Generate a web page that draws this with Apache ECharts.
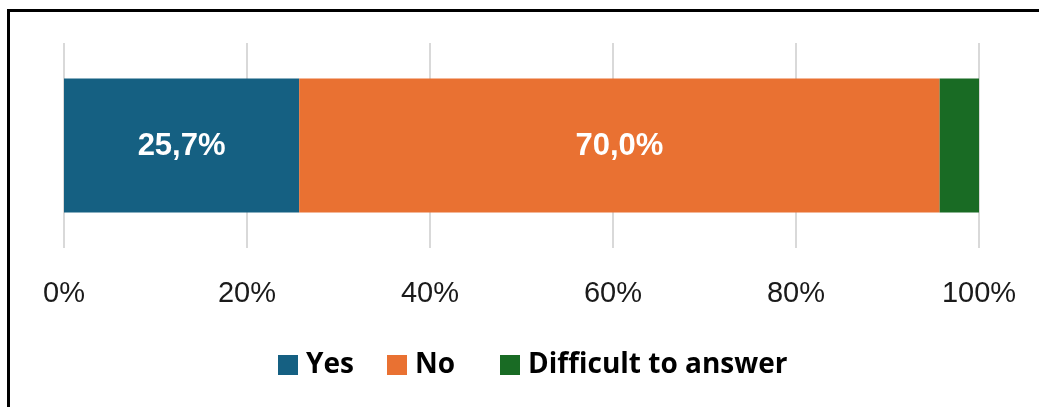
<!DOCTYPE html>
<html>
<head>
<meta charset="utf-8">
<style>
  html, body { margin: 0; padding: 0; background: #fff; }
  #chart { width: 1039px; height: 407px; }
</style>
<script src="https://cdn.jsdelivr.net/npm/echarts@6/dist/echarts.min.js"></script>
</head>
<body>
<div id="chart"></div>
<script>
// Survey answers, share of respondents (%)
const categories = ['Answer'];
const seriesNames = ['Yes', 'No', 'Difficult to answer'];
const yesValues = [25.7];
const noValues = [70.0];
const difficultValues = [4.3];
const axisTicks = [0, 20, 40, 60, 80, 100];

const colors = ['#156082', '#E97132', '#196B24'];
const font = "'Liberation Sans', Arial, sans-serif";
const legendFont = "'Open Sans', 'Liberation Sans', Arial, sans-serif";

const chart = echarts.init(document.getElementById('chart'), null, { renderer: 'canvas' });

const pct = v => v.toFixed(1).replace('.', ',') + '%';

function barSeries(name, data, color, showLabel) {
  return {
    name: name,
    type: 'bar',
    stack: 'total',
    barWidth: 134,
    data: data,
    itemStyle: { color: color },
    label: {
      show: showLabel,
      position: 'inside',
      offset: [0, 1],
      formatter: p => pct(p.value),
      color: '#fff',
      fontFamily: font,
      fontWeight: 'bold',
      fontSize: 31
    },
    emphasis: { disabled: true },
    animation: false
  };
}

function legendFor(name, left) {
  return {
    data: [name],
    left: left,
    top: 351,
    padding: 0,
    itemWidth: 20,
    itemHeight: 20,
    icon: 'rect',
    selectedMode: false,
    textStyle: {
      fontFamily: legendFont,
      fontWeight: 'bold',
      fontSize: 28,
      color: '#000',
      padding: [0, 0, 0, 3]
    }
  };
}

chart.setOption({
  animation: false,
  grid: { left: 64, right: 60, top: 43, bottom: 159, containLabel: false },
  xAxis: {
    type: 'value',
    min: axisTicks[0],
    max: axisTicks[axisTicks.length - 1],
    interval: axisTicks[1] - axisTicks[0],
    axisLine: { show: false },
    axisTick: { show: false },
    splitLine: { show: true, lineStyle: { color: '#d9d9d9', width: 2 } },
    axisLabel: {
      formatter: '{value}%',
      fontFamily: font,
      fontSize: 29,
      color: '#1a1a1a',
      margin: 31
    }
  },
  yAxis: {
    type: 'category',
    data: categories,
    show: false
  },
  legend: [
    legendFor(seriesNames[0], 278),
    legendFor(seriesNames[1], 387),
    legendFor(seriesNames[2], 500)
  ],
  series: [
    barSeries(seriesNames[0], yesValues, colors[0], true),
    barSeries(seriesNames[1], noValues, colors[1], true),
    barSeries(seriesNames[2], difficultValues, colors[2], false)
  ],
  graphic: [{
    type: 'rect',
    silent: true,
    shape: { x: 8.5, y: 10.5, width: 2000, height: 1000 },
    style: { fill: 'none', stroke: '#000', lineWidth: 3 }
  }]
});
</script>
</body>
</html>
